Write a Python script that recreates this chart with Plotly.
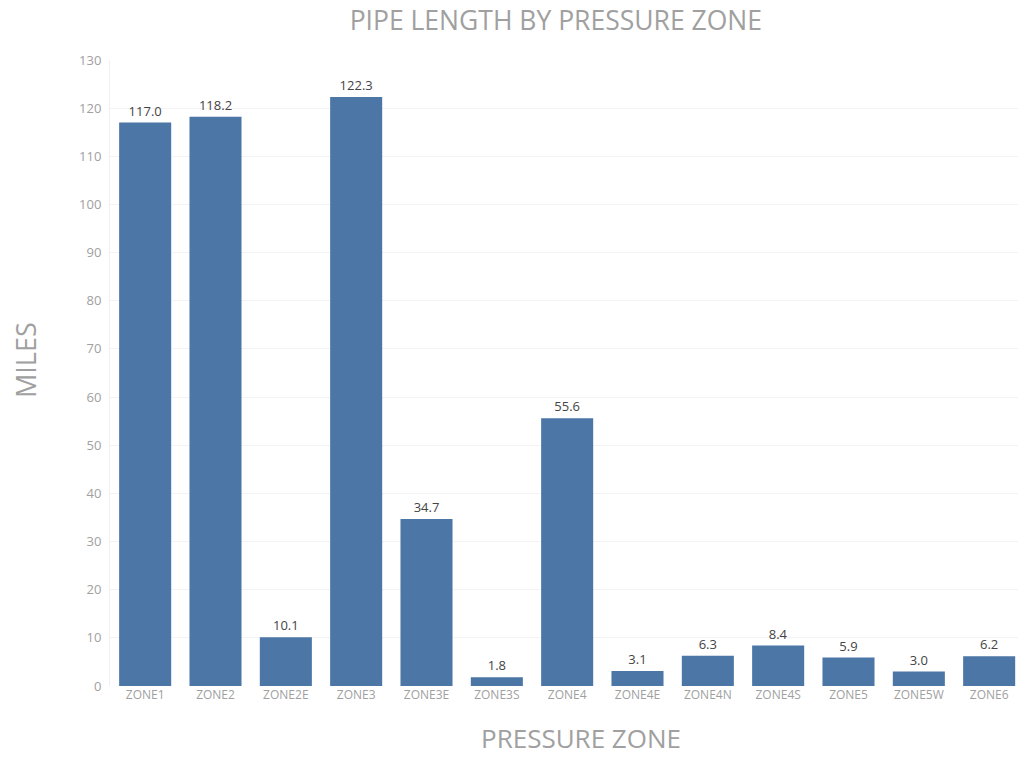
import plotly.graph_objects as go

# Pipe length (miles) per pressure zone
zones = ["ZONE1", "ZONE2", "ZONE2E", "ZONE3", "ZONE3E", "ZONE3S", "ZONE4",
         "ZONE4E", "ZONE4N", "ZONE4S", "ZONE5", "ZONE5W", "ZONE6"]
miles = [117.0, 118.2, 10.1, 122.3, 34.7, 1.8, 55.6, 3.1, 6.3, 8.4, 5.9, 3.0, 6.2]
y_ticks = list(range(0, 131, 10))

BAR = "#4b76a5"
GREY = "#a0a0a0"
FONT = "Open Sans"

fig = go.Figure(
    go.Bar(
        x=zones,
        y=miles,
        marker=dict(color=BAR, line=dict(width=0)),
        width=0.74,
        text=[f"{v:.1f}" for v in miles],
        textposition="outside",
        textfont=dict(family=FONT, size=13, color="#444444"),
        cliponaxis=False,
    )
)

fig.update_layout(
    width=1018,
    height=758,
    paper_bgcolor="white",
    plot_bgcolor="white",
    margin=dict(l=110, r=0, t=60, b=72),
    showlegend=False,
    title=dict(
        text="PIPE LENGTH BY PRESSURE ZONE",
        x=0.546,
        xanchor="center",
        y=0.973,
        yanchor="middle",
        font=dict(family=FONT, size=26.5, color=GREY),
    ),
    bargap=0.26,
)

# Axis titles placed as annotations for finer positioning
fig.add_annotation(
    text="MILES",
    xref="paper", yref="paper",
    x=-0.093, y=0.52,
    xanchor="center", yanchor="middle",
    textangle=-90,
    showarrow=False,
    font=dict(family=FONT, size=27, color=GREY),
)
fig.add_annotation(
    text="PRESSURE ZONE",
    xref="paper", yref="paper",
    x=0.519, y=-0.083,
    xanchor="center", yanchor="middle",
    showarrow=False,
    borderpad=0,
    font=dict(family=FONT, size=26, color=GREY),
)

fig.update_xaxes(
    range=[-0.5, 12.41],
    showgrid=False,
    showline=False,
    zeroline=False,
    ticks="",
    tickfont=dict(family=FONT, size=12, color=GREY),
)

fig.update_yaxes(
    range=[0, 130],
    tickvals=y_ticks,
    showgrid=True,
    gridcolor="#f3f3f3",
    gridwidth=1,
    zeroline=False,
    showline=True,
    linecolor="#f0f0f0",
    ticks="",
    ticklabelstandoff=5,
    tickfont=dict(family=FONT, size=13, color=GREY),
)

fig.write_html("out.html")
